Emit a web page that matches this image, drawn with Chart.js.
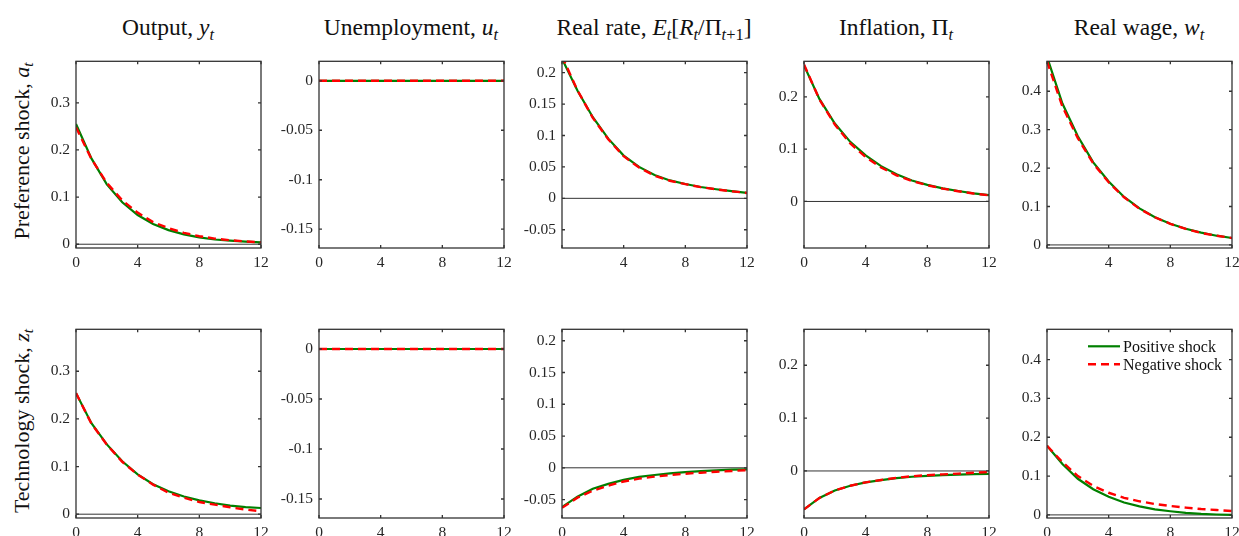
<!DOCTYPE html>
<html>
<head>
<meta charset="utf-8">
<script src="https://cdn.jsdelivr.net/npm/chart.js@4.4.1/dist/chart.umd.min.js"></script>
<style>
  html, body { margin: 0; padding: 0; background: #fff; }
  body { width: 1239px; height: 536px; position: relative; overflow: hidden;
         font-family: 'Liberation Serif', 'Times New Roman', serif; color: #111; }
  .panel { position: absolute; }
  .title { position: absolute; font-size: 23.5px; line-height: 23px; white-space: nowrap;
           transform: translateX(-50%); }
  .rowlab { position: absolute; font-size: 22px; line-height: 22px; white-space: nowrap;
            transform: translate(-50%, -50%) rotate(-90deg); }
  sub { font-size: 70%; vertical-align: -0.28em; line-height: 0; }
</style>
</head>
<body>

<div class="title" style="left:168px; top:16px;">Output, <i>y<sub>t</sub></i></div>
<div class="title" style="left:411px; top:16px;">Unemployment, <i>u<sub>t</sub></i></div>
<div class="title" style="left:654px; top:16px;">Real rate, <i>E<sub>t</sub></i>[<i>R<sub>t</sub></i>/Π<sub><i>t</i>+1</sub>]</div>
<div class="title" style="left:896px; top:16px;">Inflation, Π<sub><i>t</i></sub></div>
<div class="title" style="left:1139px; top:16px;">Real wage, <i>w<sub>t</sub></i></div>

<div class="rowlab" style="left:22px; top:151px;">Preference shock, <i>a<sub>t</sub></i></div>
<div class="rowlab" style="left:22px; top:421px;">Technology shock, <i>z<sub>t</sub></i></div>

<script>
// Impulse responses, quarters after the shock
const periods = [0, 1, 2, 3, 4, 5, 6, 7, 8, 9, 10, 11, 12];
const xTicks = [0, 4, 8, 12];

// Preference shock
const outPrefPos   = [0.255, 0.182, 0.127, 0.089, 0.062, 0.043, 0.030, 0.021, 0.0145, 0.010, 0.0075, 0.0055, 0.004];
const outPrefNeg   = [0.248, 0.181, 0.130, 0.093, 0.067, 0.047, 0.034, 0.024, 0.017, 0.012, 0.0085, 0.006, 0.004];
const unempPrefPos = [0, 0, 0, 0, 0, 0, 0, 0, 0, 0, 0, 0, 0];
const unempPrefNeg = [0, 0, 0, 0, 0, 0, 0, 0, 0, 0, 0, 0, 0];
const rratePrefPos = [0.222, 0.1715, 0.129, 0.095, 0.068, 0.050, 0.037, 0.0285, 0.0228, 0.018, 0.0145, 0.0114, 0.0088];
const rratePrefNeg = [0.226, 0.172, 0.128, 0.094, 0.067, 0.049, 0.036, 0.028, 0.0225, 0.0178, 0.0143, 0.0112, 0.0086];
const inflPrefPos  = [0.260, 0.196, 0.149, 0.114, 0.088, 0.0675, 0.052, 0.040, 0.0316, 0.025, 0.020, 0.0155, 0.012];
const inflPrefNeg  = [0.262, 0.195, 0.147, 0.111, 0.085, 0.065, 0.050, 0.039, 0.031, 0.0245, 0.0195, 0.0152, 0.0118];
const wagePrefPos  = [0.490, 0.368, 0.283, 0.215, 0.165, 0.125, 0.095, 0.072, 0.055, 0.042, 0.032, 0.024, 0.018];
const wagePrefNeg  = [0.478, 0.360, 0.278, 0.212, 0.163, 0.124, 0.094, 0.072, 0.055, 0.042, 0.031, 0.024, 0.018];

// Technology shock
const outTechPos   = [0.254, 0.191, 0.1465, 0.111, 0.0836, 0.063, 0.048, 0.037, 0.029, 0.023, 0.018, 0.015, 0.013];
const outTechNeg   = [0.254, 0.190, 0.146, 0.110, 0.083, 0.062, 0.045, 0.0345, 0.0256, 0.020, 0.0145, 0.0097, 0.006];
const unempTechPos = [0, 0, 0, 0, 0, 0, 0, 0, 0, 0, 0, 0, 0];
const unempTechNeg = [0, 0, 0, 0, 0, 0, 0, 0, 0, 0, 0, 0, 0];
const rrateTechPos = [-0.062, -0.0454, -0.033, -0.0253, -0.019, -0.0144, -0.0113, -0.0088, -0.0067, -0.0052, -0.0041, -0.003, -0.0026];
const rrateTechNeg = [-0.063, -0.047, -0.036, -0.028, -0.0216, -0.017, -0.0139, -0.0113, -0.0093, -0.0077, -0.0062, -0.005, -0.0036];
const inflTechPos  = [-0.0727, -0.051, -0.037, -0.028, -0.0217, -0.0174, -0.0137, -0.011, -0.0093, -0.008, -0.0068, -0.006, -0.0056];
const inflTechNeg  = [-0.0727, -0.051, -0.037, -0.028, -0.0215, -0.017, -0.013, -0.010, -0.008, -0.0065, -0.005, -0.0035, -0.002];
const wageTechPos  = [0.178, 0.131, 0.093, 0.066, 0.0466, 0.032, 0.022, 0.0144, 0.0093, 0.005, 0.0025, 0.001, 0.0];
const wageTechNeg  = [0.178, 0.136, 0.100, 0.0746, 0.057, 0.044, 0.035, 0.028, 0.023, 0.0186, 0.015, 0.0127, 0.010];

// Y tick labels per variable
const outputTicks = [0, 0.1, 0.2, 0.3];
const unempTicks  = [-0.15, -0.1, -0.05, 0];
const rrateTicks  = [-0.05, 0, 0.05, 0.1, 0.15, 0.2];
const inflTicks   = [0, 0.1, 0.2];
const wageTicks   = [0, 0.1, 0.2, 0.3, 0.4];

const seriesLabels = ['Positive shock', 'Negative shock'];

// axis limits, shared by both rows
const yLimits = {
  output: [-0.008, 0.388],
  unemp:  [-0.169, 0.0197],
  rrate:  [-0.079, 0.218],
  infl:   [-0.089, 0.268],
  wage:   [-0.008, 0.478]
};

const GREEN = '#008000';
const RED = '#ff0000';
const AXIS = '#333333';

Chart.defaults.font.family = "'Liberation Serif', 'Times New Roman', serif";
Chart.defaults.font.size = 15.5;
Chart.defaults.color = '#262626';

const colLeft = [76, 319, 562, 804, 1047];
const rowTop = [56, 324];
const rowHeight = [192, 194];
const plotWidth = 185;
const PAD_L = 60, PAD_T = 10, PAD_R = 15, PAD_B = 30;

// box around the axes with inward ticks on all sides, plus the zero line
const framePlugin = {
  id: 'frame',
  beforeDatasetsDraw(chart) {
    const { ctx, chartArea: a, scales } = chart;
    const y0 = scales.y.getPixelForValue(0);
    ctx.save();
    ctx.strokeStyle = '#333';
    ctx.lineWidth = 1;
    ctx.beginPath();
    ctx.moveTo(a.left, y0);
    ctx.lineTo(a.right, y0);
    ctx.stroke();
    ctx.restore();
  },
  afterDraw(chart) {
    const { ctx, chartArea: a, scales } = chart;
    const len = 3;
    ctx.save();
    ctx.strokeStyle = AXIS;
    ctx.lineWidth = 1.3;
    ctx.strokeRect(a.left, a.top, a.right - a.left, a.bottom - a.top);
    ctx.beginPath();
    scales.x.ticks.forEach(t => {
      const px = scales.x.getPixelForValue(t.value);
      ctx.moveTo(px, a.bottom); ctx.lineTo(px, a.bottom - len);
      ctx.moveTo(px, a.top); ctx.lineTo(px, a.top + len);
    });
    scales.y.ticks.forEach(t => {
      const py = scales.y.getPixelForValue(t.value);
      ctx.moveTo(a.left, py); ctx.lineTo(a.left + len, py);
      ctx.moveTo(a.right, py); ctx.lineTo(a.right - len, py);
    });
    ctx.stroke();
    ctx.restore();
  }
};

// legend drawn inside the upper right of the axes
const insideLegend = {
  id: 'insideLegend',
  afterDraw(chart) {
    const { ctx, chartArea: a } = chart;
    const x0 = a.left + 41, x1 = a.left + 73, tx = a.left + 76;
    const rows = [a.top + 17, a.top + 35];
    ctx.save();
    chart.data.datasets.forEach((ds, i) => {
      ctx.strokeStyle = ds.borderColor;
      ctx.lineWidth = ds.borderWidth;
      ctx.setLineDash(ds.borderDash || []);
      ctx.beginPath();
      ctx.moveTo(x0, rows[i]);
      ctx.lineTo(x1, rows[i]);
      ctx.stroke();
      ctx.setLineDash([]);
      ctx.fillStyle = '#111';
      ctx.font = "16px 'Liberation Serif', serif";
      ctx.textBaseline = 'middle';
      ctx.fillText(ds.label, tx, rows[i] + 1);
    });
    ctx.restore();
  }
};

function toPoints(values) {
  return periods.map((t, i) => ({ x: t, y: values[i] }));
}

function makePanel(row, col, pos, neg, limits, yTicks, opts) {
  opts = opts || {};
  const w = plotWidth + PAD_L + PAD_R;
  const h = rowHeight[row] + PAD_T + PAD_B;
  const holder = document.createElement('div');
  holder.className = 'panel';
  holder.style.left = (colLeft[col] - PAD_L) + 'px';
  holder.style.top = (rowTop[row] - PAD_T) + 'px';
  const canvas = document.createElement('canvas');
  canvas.width = w;
  canvas.height = h;
  canvas.style.width = w + 'px';
  canvas.style.height = h + 'px';
  holder.appendChild(canvas);
  document.body.appendChild(holder);

  const plugins = [framePlugin];
  if (opts.legend) plugins.push(insideLegend);

  new Chart(canvas.getContext('2d'), {
    type: 'line',
    data: {
      datasets: [{
        label: seriesLabels[0],
        data: toPoints(pos),
        borderColor: GREEN,
        borderWidth: 2.2,
        pointRadius: 0,
        tension: 0,
        clip: 0,
        order: 1
      }, {
        label: seriesLabels[1],
        data: toPoints(neg),
        borderColor: RED,
        borderWidth: 2.4,
        borderDash: [8, 5],
        pointRadius: 0,
        tension: 0,
        clip: 0,
        order: 0
      }]
    },
    options: {
      responsive: false,
      animation: false,
      devicePixelRatio: 1,
      layout: { padding: { left: 0, top: PAD_T, right: PAD_R, bottom: 0 } },
      plugins: { legend: { display: false }, tooltip: { enabled: false } },
      scales: {
        x: {
          type: 'linear',
          min: 0,
          max: 12,
          afterBuildTicks: s => { s.ticks = xTicks.map(v => ({ value: v })); },
          afterFit: s => { s.height = PAD_B; },
          grid: { display: false, drawTicks: false },
          border: { display: false },
          ticks: {
            padding: 6,
            maxRotation: 0,
            callback: v => (opts.hideZero && v === 0) ? '' : String(v)
          }
        },
        y: {
          min: limits[0],
          max: limits[1],
          afterBuildTicks: s => { s.ticks = yTicks.map(v => ({ value: v })); },
          afterFit: s => { s.width = PAD_L; },
          grid: { display: false, drawTicks: false },
          border: { display: false },
          ticks: { padding: 6, callback: v => String(v) }
        }
      }
    },
    plugins: plugins
  });
}

document.addEventListener('DOMContentLoaded', function() {
  // Preference shock row
  makePanel(0, 0, outPrefPos, outPrefNeg, yLimits.output, outputTicks);
  makePanel(0, 1, unempPrefPos, unempPrefNeg, yLimits.unemp, unempTicks);
  makePanel(0, 2, rratePrefPos, rratePrefNeg, yLimits.rrate, rrateTicks, { hideZero: true });
  makePanel(0, 3, inflPrefPos, inflPrefNeg, yLimits.infl, inflTicks);
  makePanel(0, 4, wagePrefPos, wagePrefNeg, yLimits.wage, wageTicks, { hideZero: true });

  // Technology shock row
  makePanel(1, 0, outTechPos, outTechNeg, yLimits.output, outputTicks);
  makePanel(1, 1, unempTechPos, unempTechNeg, yLimits.unemp, unempTicks);
  makePanel(1, 2, rrateTechPos, rrateTechNeg, yLimits.rrate, rrateTicks);
  makePanel(1, 3, inflTechPos, inflTechNeg, yLimits.infl, inflTicks);
  makePanel(1, 4, wageTechPos, wageTechNeg, yLimits.wage, wageTicks, { legend: true });
});
</script>
</body>
</html>
